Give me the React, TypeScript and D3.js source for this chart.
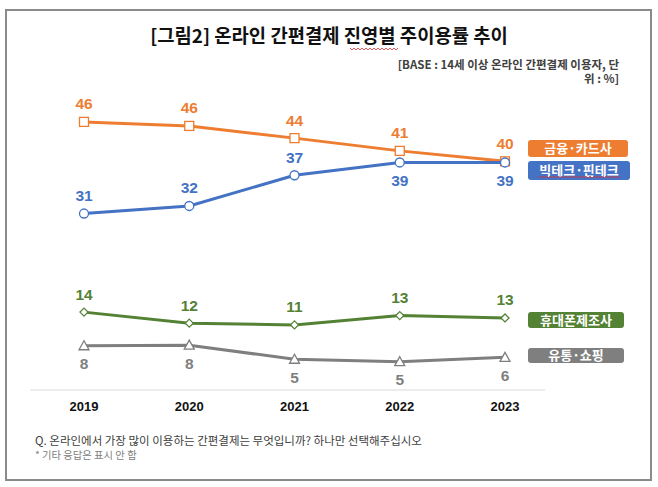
import React from "react";
import * as d3 from "d3";

const years = ["2019", "2020", "2021", "2022", "2023"];
const finance = [46.4, 45.7, 43.6, 41.4, 39.6];
const bigtech = [30.6, 31.9, 37.2, 39.4, 39.4];
const phone = [13.6, 11.7, 11.4, 13.0, 12.6];
const retail = [7.8, 7.9, 5.47, 5.05, 5.8];
const seriesNames = ["금융·카드사", "빅테크·핀테크", "휴대폰제조사", "유통·쇼핑"];
const title = "[그림2] 온라인 간편결제 진영별 주이용률 추이";
const baseLines = ["[BASE : 14세 이상 온라인 간편결제 이용자, 단", "위 : %]"];
const notes = ["Q. 온라인에서 가장 많이 이용하는 간편결제는 무엇입니까? 하나만 선택해주십시오", "* 기타 응답은 표시 안 함"];

const W = 658, H = 487;
const FONT = "'Liberation Sans', Arial, 'Noto Sans CJK KR', sans-serif";
const KFONT = "'Noto Sans CJK KR', 'Noto Sans', sans-serif";

export default function App() {
  const x = d3.scalePoint<string>().domain(years).range([84, 505]);
  const y = d3.scaleLinear().domain([0, 50]).range([391, 101]);
  const line = d3.line<number>().x((_, i) => x(years[i])!).y((d) => y(d));

  const series = [
    { name: seriesNames[0], data: finance, color: "#ED7D31", marker: "square", labelPos: [-1, -1, -1, -1, -1], box: [528, 140, 100, 17] },
    { name: seriesNames[1], data: bigtech, color: "#4472C4", marker: "circle", labelPos: [-1, -1, -1, 1, 1], box: [528, 161, 102, 19] },
    { name: seriesNames[2], data: phone, color: "#548235", marker: "diamond", labelPos: [-1, -1, -1, -1, -1], box: [528, 312, 96, 16] },
    { name: seriesNames[3], data: retail, color: "#7F7F7F", marker: "triangle", labelPos: [1, 1, 1, 1, 1], box: [528, 348, 96, 15] },
  ];

  const marker = (type: string, cx: number, cy: number, color: string, key: string) => {
    const common = { fill: "#fff", stroke: color, strokeWidth: 1.3, key };
    if (type === "square") return <rect {...common} x={cx - 4.5} y={cy - 4.5} width={9} height={9} />;
    if (type === "circle") return <circle {...common} cx={cx} cy={cy} r={4.5} />;
    if (type === "diamond") return <path {...common} d={`M${cx},${cy - 4}L${cx + 4},${cy}L${cx},${cy + 4}L${cx - 4},${cy}Z`} />;
    return <path {...common} d={`M${cx},${cy - 5}L${cx + 5},${cy + 4}L${cx - 5},${cy + 4}Z`} />;
  };

  const wavy = (x0: number, x1: number, yy: number) => {
    const pts: string[] = [];
    let up = true;
    for (let xx = x0; xx <= x1; xx += 2) {
      pts.push(`${xx},${up ? yy - 1 : yy + 1}`);
      up = !up;
    }
    return <polyline points={pts.join(" ")} fill="none" stroke="#e03030" strokeWidth={0.8} />;
  };

  return (
    <svg width={W} height={H} style={{ position: "absolute", left: 0, top: 0 }}>
      <rect x={0} y={0} width={W} height={H} fill="#fff" />
      <rect x={6} y={10} width={645} height={470} fill="#fff" stroke="#8a8a8a" strokeWidth={2} />
      <text x={329} y={43} textAnchor="middle" fontFamily={KFONT} fontWeight={700} fontSize={18.8} fill="#111">{title}</text>
      {wavy(350, 398, 49)}
      <text textAnchor="end" fontFamily={KFONT} fontWeight={600} fontSize={11.5} fill="#404040">
        {baseLines.map((t, i) => (
          <tspan key={i} x={619} y={69 + i * 14}>{t}</tspan>
        ))}
      </text>
      <line x1={30} x2={545} y1={390} y2={390} stroke="#d9d9d9" strokeWidth={1} />
      {years.map((yr) => (
        <text key={yr} x={x(yr)} y={411} textAnchor="middle" fontFamily={FONT} fontWeight={700} fontSize={13} fill="#111">{yr}</text>
      ))}
      {series.map((s) => (
        <g key={s.name}>
          <path d={line(s.data)!} fill="none" stroke={s.color} strokeWidth={3} />
          {s.data.map((v, i) => marker(s.marker, x(years[i])!, y(v), s.color, s.name + i))}
          {s.data.map((v, i) => (
            <text key={"l" + i} x={x(years[i])} y={y(v) + (s.labelPos[i] < 0 ? -12.5 : 23.5)} textAnchor="middle" fontFamily={FONT} fontWeight={700} fontSize={15.5} fill={s.color}>{Math.round(v)}</text>
          ))}
          <rect x={s.box[0]} y={s.box[1]} width={s.box[2]} height={s.box[3]} rx={3} fill={s.color} />
          <text x={s.box[0] + s.box[2] / 2} y={s.box[1] + s.box[3] / 2 + 4.6} textAnchor="middle" fontFamily={KFONT} fontWeight={700} fontSize={13} fill="#fff">{s.name}</text>
        </g>
      ))}
      {wavy(538, 620, 177)}
      <text x={35} y={445} fontFamily={KFONT} fontSize={11.5} fill="#404040">{notes[0]}</text>
      <text x={35} y={459} fontFamily={KFONT} fontSize={10.3} fill="#808080">{notes[1]}</text>
    </svg>
  );
}
